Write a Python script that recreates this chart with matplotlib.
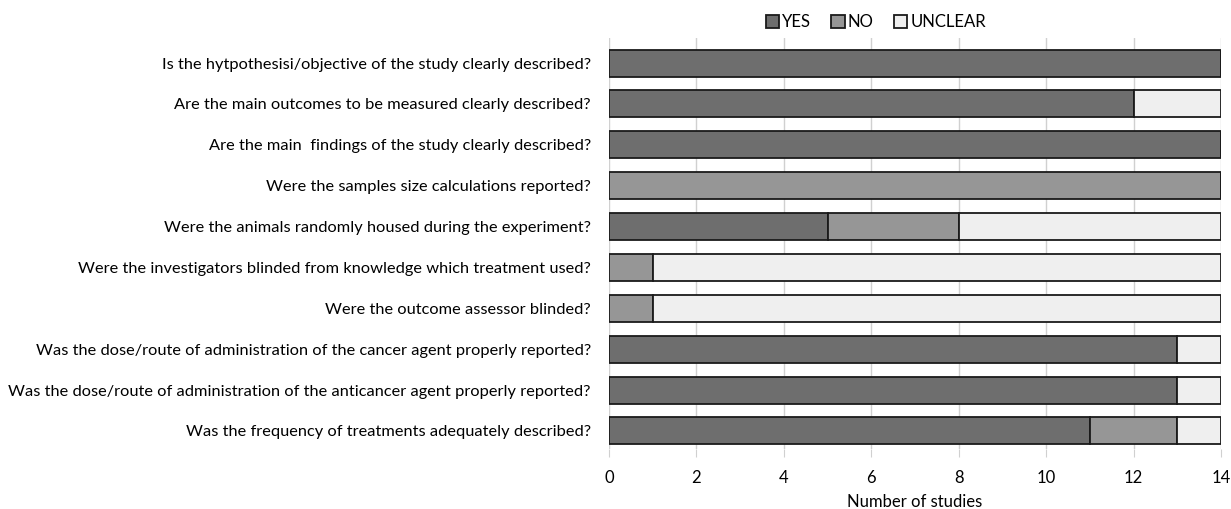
import matplotlib
matplotlib.use("Agg")
import matplotlib.pyplot as plt
import numpy as np

plt.rcParams['font.family'] = ['Lato', 'DejaVu Sans']

questions = [
    "Is the hytpothesisi/objective of the study clearly described?",
    "Are the main outcomes to be measured clearly described?",
    "Are the main  findings of the study clearly described?",
    "Were the samples size calculations reported?",
    "Were the animals randomly housed during the experiment?",
    "Were the investigators blinded from knowledge which treatment used?",
    "Were the outcome assessor blinded?",
    "Was the dose/route of administration of the cancer agent properly reported?",
    "Was the dose/route of administration of the anticancer agent properly reported?",
    "Was the frequency of treatments adequately described?",
]
yes_vals = [14, 12, 14, 0, 5, 0, 0, 13, 13, 11]
no_vals = [0, 0, 0, 14, 3, 1, 1, 0, 0, 2]
unclear_vals = [0, 2, 0, 0, 6, 13, 13, 1, 1, 1]
series_names = ["YES", "NO", "UNCLEAR"]
colors = ["#6e6e6e", "#969696", "#efefef"]
x_ticks = [0, 2, 4, 6, 8, 10, 12, 14]

fig = plt.figure(figsize=(12.31, 5.09), dpi=100)
ax = fig.add_axes([0.4947, 0.118, 0.4972, 0.807])

y = np.arange(len(questions))
left = np.zeros(len(questions))
for name, vals, c in zip(series_names, [yes_vals, no_vals, unclear_vals], colors):
    vals = np.array(vals, dtype=float)
    ax.barh(y, vals, left=left, height=0.66, color=c, edgecolor="#1a1a1a",
            linewidth=1.3, label=name, zorder=3)
    left += vals

ax.set_xlim(0, 14)
ax.set_ylim(9.44, -0.61)
ax.set_yticks(y)
ax.set_yticklabels(questions, fontsize=11.8)
ax.set_xticks(x_ticks)
ax.set_xticklabels([str(t) for t in x_ticks], fontsize=12)
ax.tick_params(axis='y', length=0, pad=13)
ax.tick_params(axis='x', length=6, color="#d0d0d0", pad=9)
ax.xaxis.grid(True, color="#d0d0d0", linewidth=1, zorder=0)
for s in ax.spines.values():
    s.set_visible(False)
ax.set_xlabel("Number of studies", fontsize=12, labelpad=6)

leg = ax.legend(loc="lower center", bbox_to_anchor=(0.436, 0.995), ncol=3, frameon=False,
                fontsize=12, handlelength=0.8, handleheight=0.8, handletextpad=0.2,
                columnspacing=1.2, borderaxespad=0.2)

fig.savefig("out.png", dpi=100)
